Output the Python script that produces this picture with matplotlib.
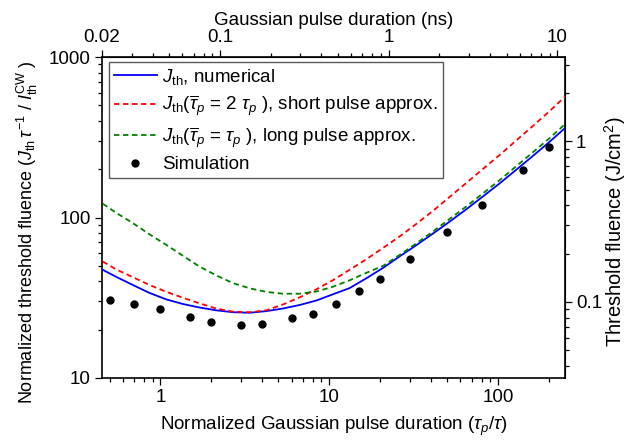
import numpy as np
import matplotlib
matplotlib.use('Agg')
import matplotlib.pyplot as plt
from matplotlib.ticker import FixedLocator, LogLocator, NullFormatter, FuncFormatter

plt.rcParams['font.family'] = 'Liberation Sans'
plt.rcParams['mathtext.fontset'] = 'custom'
plt.rcParams['mathtext.rm'] = 'Liberation Sans'
plt.rcParams['mathtext.it'] = 'Liberation Sans:italic'
plt.rcParams['mathtext.bf'] = 'Liberation Sans:bold'

X_MIN, X_MAX = 0.45, 250
TAU_NS = 0.02 / X_MIN    # tau in ns (top axis conversion)
J_SCALE = 0.00336        # normalized fluence -> J/cm^2 (right axis)

# normalized pulse duration tau_p / tau for the model curves
x_model = [0.455, 0.546, 0.685, 0.86, 1.08, 1.36, 1.7, 2.14, 2.69, 3.38, 4.24, 5.32,
           6.68, 8.4, 10.5, 13.2, 16.6, 20.9, 26.2, 32.9, 41.3, 51.9, 65.2, 81.8,
           103, 129, 162, 204, 250]

# numerical threshold fluence
j_num = [47.2, 42.7, 38.0, 33.9, 30.9, 28.9, 27.5, 26.4, 25.7, 25.5, 26.1, 27.1,
         28.5, 30.4, 33.2, 36.3, 41.8, 48.6, 57.3, 67.3, 79.5, 94.4, 112.8, 135.6,
         163.9, 199.0, 242.7, 298.3, 360.6]

# short pulse approximation
j_short = [53.2, 47.5, 42.5, 38.0, 34.5, 31.6, 29.2, 27.1, 25.9, 25.7, 26.4, 28.7,
           31.8, 35.7, 40.6, 47.2, 54.9, 64.7, 76.3, 91.3, 110.1, 134.6, 164.6, 201.3,
           246.1, 303.1, 373.3, 463.1, 566.1]

# long pulse approximation
j_long = [121.8, 107.0, 92.3, 78.6, 67.6, 57.7, 49.5, 43.6, 39.0, 36.2, 34.4, 33.5,
          33.5, 34.6, 37.0, 40.6, 45.2, 50.0, 58.5, 69.0, 82.0, 98.1, 117.5, 141.6,
          171.8, 209.3, 255.9, 314.2, 381.4]

# simulation results
x_sim = [0.5, 0.7, 1, 1.5, 2, 3, 4, 6, 8, 11, 15, 20, 30, 50, 80, 140, 200]
j_sim = [30.7, 28.8, 26.8, 23.9, 22.4, 21.3, 21.7, 23.5, 25.2, 29.1, 34.7, 41.3, 55.0,
         81.5, 120, 199, 275]

fig = plt.figure(figsize=(6.29, 4.46), dpi=100)
ax = fig.add_axes([102 / 629, 68 / 446, 463 / 629, 321 / 446])

ax.plot(x_model, j_num, c='#0000ff', lw=1.3, label=r'$J_{\rm th}$, numerical', zorder=3)
ax.plot(x_model, j_short, c='#ff0000', lw=1.3, ls=(0, (3, 2)),
        label=r'$J_{\rm th}(\overline{\tau}_{p}$ = 2 $\tau_{p}$ ), short pulse approx.', zorder=3)
ax.plot(x_model, j_long, c='#008000', lw=1.3, ls=(0, (3, 2)),
        label=r'$J_{\rm th}(\overline{\tau}_{p}$ = $\tau_{p}$ ), long pulse approx.', zorder=3)
ax.plot(x_sim, j_sim, 'o', c='k', ms=6, mew=0, label='Simulation', zorder=4)

ax.set_xscale('log')
ax.set_yscale('log')
ax.set_xlim(X_MIN, X_MAX)
ax.set_ylim(10, 1000)

fmt = FuncFormatter(lambda v, p: f'{v:g}')


def style_ticks(a):
    a.tick_params(which='both', direction='out', width=0.9, labelsize=13.5, pad=3)
    a.tick_params(which='major', length=5)
    a.tick_params(which='minor', length=3)


for a in (ax.xaxis, ax.yaxis):
    a.set_major_formatter(fmt)
    a.set_minor_formatter(NullFormatter())
style_ticks(ax)
for s in ax.spines.values():
    s.set_linewidth(1.2)

ax.set_xlabel(r'Normalized Gaussian pulse duration ($\tau_p/\tau$)', fontsize=13.5, labelpad=6)
ax.set_ylabel(r'Normalized threshold fluence ($J_{\rm th}\,\tau^{-1}$ / $I_{\rm th}^{\rm CW}$ )',
              fontsize=13)
ax.yaxis.set_label_coords(-0.134, 0.455)

# top axis: pulse duration in ns
top = ax.secondary_xaxis('top', functions=(lambda x: x * TAU_NS, lambda x: x / TAU_NS))
top.xaxis.set_major_locator(FixedLocator([0.02, 0.1, 1, 10]))
top.xaxis.set_minor_locator(LogLocator(base=10, subs=np.arange(2, 10)))
top.xaxis.set_major_formatter(fmt)
top.xaxis.set_minor_formatter(NullFormatter())
style_ticks(top)
top.set_xlabel('Gaussian pulse duration (ns)', fontsize=13.5, labelpad=2.5)

# right axis: absolute fluence
right = ax.secondary_yaxis('right', functions=(lambda y: y * J_SCALE, lambda y: y / J_SCALE))
right.yaxis.set_major_locator(FixedLocator([0.1, 1]))
right.yaxis.set_minor_locator(LogLocator(base=10, subs=np.arange(2, 10)))
right.yaxis.set_major_formatter(fmt)
right.yaxis.set_minor_formatter(NullFormatter())
style_ticks(right)
right.set_ylabel(r'Threshold fluence (J/cm$^2$)', fontsize=14.5)
right.yaxis.set_label_coords(1.081, 0.455, transform=ax.transAxes)

leg = ax.legend(loc='upper left', bbox_to_anchor=(0.015, 0.984), borderaxespad=0,
                fontsize=13.5, frameon=True, fancybox=False, framealpha=1,
                edgecolor='0.35', handlelength=2.3, handletextpad=0.3,
                labelspacing=0.35, borderpad=0.25)
leg.get_frame().set_linewidth(1.0)

fig.savefig('out.png', dpi=100)
